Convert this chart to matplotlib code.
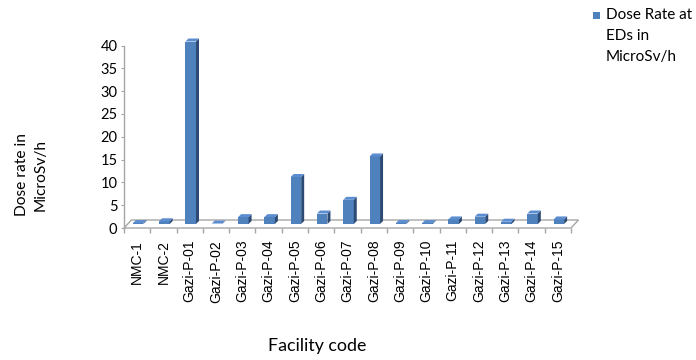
import matplotlib
matplotlib.use("Agg")
import matplotlib.pyplot as plt
from matplotlib.patches import Polygon, Rectangle
import numpy as np

categories = ["NMC-1", "NMC-2", "Gazi-P-01", "Gazi-P-02", "Gazi-P-03", "Gazi-P-04",
              "Gazi-P-05", "Gazi-P-06", "Gazi-P-07", "Gazi-P-08", "Gazi-P-09",
              "Gazi-P-10", "Gazi-P-11", "Gazi-P-12", "Gazi-P-13", "Gazi-P-14", "Gazi-P-15"]
dose_rate = [0.2, 0.6, 40.0, 0.1, 1.5, 1.5, 10.3, 2.3, 5.3, 14.8, 0.2, 0.2, 1.0, 1.6, 0.5, 2.3, 1.0]
y_ticks = [0, 5, 10, 15, 20, 25, 30, 35, 40]
series_label = "Dose Rate at\nEDs in\nMicroSv/h"
x_title = "Facility code"
y_title = "Dose rate in\nMicroSv/h"

FRONT = "#4F81BD"
SIDE = "#2C4A74"
TOP = "#5B8DD0"
GRID = "#A6A6A6"

W, H = 696, 360
fig = plt.figure(figsize=(W / 100, H / 100), dpi=100)
ax_l, ax_r, ax_t, ax_b = 124, 571, 45.5, 228
ax = fig.add_axes([ax_l / W, 1 - ax_b / H, (ax_r - ax_l) / W, (ax_b - ax_t) / H])

n = len(categories)
x = np.arange(n)
ax.set_xlim(-0.5, n - 0.5)
ax.set_ylim(0, 40)

px_x = (ax_r - ax_l) / n          # pixels per category
px_y = (ax_b - ax_t) / 40.0       # pixels per unit

# floor (oblique depth)
fx, fy = 7.5 / px_x, 8.0 / px_y
floor = Polygon([(-0.5, 0), (n - 0.5, 0), (n - 0.5 + fx, fy), (-0.5 + fx, fy)],
                closed=True, facecolor="white", edgecolor=GRID, lw=1.0,
                clip_on=False, zorder=1)
ax.add_patch(floor)

# bars: front faces at mid-depth
ox, oy = 1.0 / px_x, 4.0 / px_y
dx, dy = 3.0 / px_x, 3.0 / px_y
bw = 0.4
bars = ax.bar(x + ox, dose_rate, width=bw, bottom=oy, color=FRONT,
              edgecolor="none", clip_on=False, zorder=3)
for b in bars:
    x0 = b.get_x()
    x1 = x0 + b.get_width()
    y0 = b.get_y()
    y1 = y0 + b.get_height()
    side = Polygon([(x1, y0), (x1, y1), (x1 + dx, y1 + dy), (x1 + dx, y0 + dy)],
                   closed=True, facecolor=SIDE, edgecolor="none", clip_on=False, zorder=3)
    top = Polygon([(x0, y1), (x1, y1), (x1 + dx, y1 + dy), (x0 + dx, y1 + dy)],
                  closed=True, facecolor=TOP, edgecolor="none", clip_on=False, zorder=3)
    ax.add_patch(side)
    ax.add_patch(top)

for s in ["top", "right", "bottom"]:
    ax.spines[s].set_visible(False)
ax.spines["left"].set_color(GRID)
ax.spines["left"].set_linewidth(1.0)

ax.set_yticks(y_ticks)
ax.set_yticklabels([str(v) for v in y_ticks], fontfamily="Lato", fontsize=10.5)
ax.tick_params(axis="y", length=2.2, color=GRID, pad=2.5, labelcolor="black")

ax.set_xticks(x)
ax.set_xticklabels(categories, rotation=90, fontfamily="Liberation Sans", fontsize=10)
ax.set_xticks(np.arange(-0.5, n, 1.0), minor=True)
ax.tick_params(axis="x", which="major", length=0, pad=8.5)
ax.tick_params(axis="x", which="minor", length=3.8, color=GRID, width=1.0)

fig.text(317 / W, 1 - 346 / H, x_title, ha="center", va="center",
         fontfamily="Lato", fontsize=12.8)
fig.text(31 / W, 1 - 175 / H, y_title, ha="center", va="center", rotation=90,
         fontfamily="Lato", fontsize=11.2, linespacing=1.45)

# legend (drawn manually so the swatch aligns with the first line)
fig.patches.append(Rectangle((593 / W, 1 - 19 / H), 7 / W, 7 / H,
                             transform=fig.transFigure, facecolor=FRONT,
                             edgecolor="none"))
fig.text(606 / W, 1 - 8 / H, series_label, ha="left", va="top",
         fontfamily="Lato", fontsize=11, linespacing=1.62)

fig.savefig("out.png", dpi=100)
